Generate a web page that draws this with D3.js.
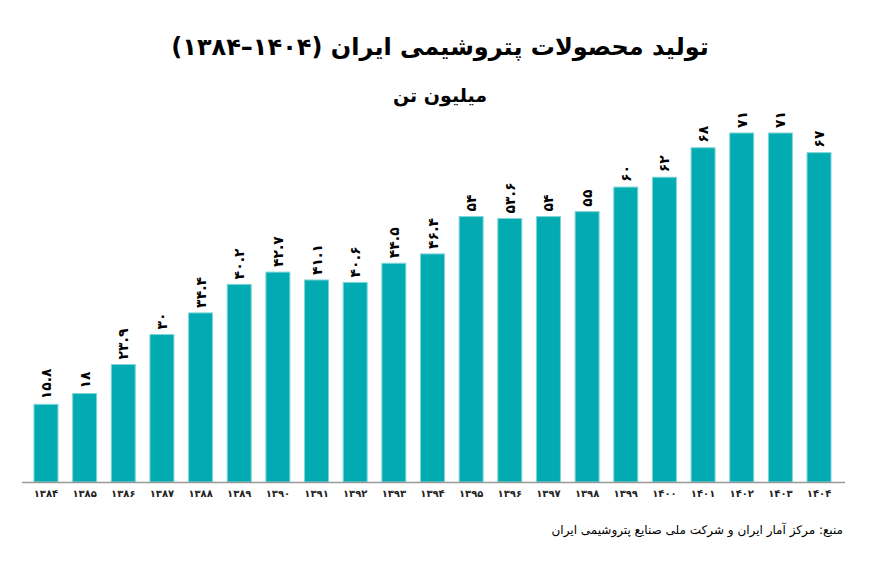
<!DOCTYPE html>
<html>
<head>
<meta charset="utf-8">
<script src="https://cdn.jsdelivr.net/npm/d3@7"></script>
<style>
  body { margin: 0; background: #fff; }
  text { font-family: "DejaVu Sans", "Noto Sans", sans-serif; }
</style>
</head>
<body>
<script>
const years = ['1384', '1385', '1386', '1387', '1388', '1389', '1390', '1391', '1392', '1393', '1394',
  '1395', '1396', '1397', '1398', '1399', '1400', '1401', '1402', '1403', '1404'];
const values = [15.8, 18, 23.9, 30, 34.4, 40.2, 42.7, 41.1, 40.6, 44.5, 46.4,
  54, 53.6, 54, 55, 60, 62, 68, 71, 71, 67];
// LRM marks keep the year range reading 1384 to 1404 from the left
const title = 'تولید محصولات پتروشیمی ایران (۱۳۸۴\u200E–\u200E۱۴۰۴)';
const subtitle = 'میلیون تن';
const source = 'منبع: مرکز آمار ایران و شرکت ملی صنایع پتروشیمی ایران';

const W = 878, H = 565;
const fa = s => String(s).replace(/[0-9]/g, d => '۰۱۲۳۴۵۶۷۸۹'[d]);

const svg = d3.select('body').append('svg')
  .attr('width', W)
  .attr('height', H);

const x = d3.scaleBand()
  .domain(years)
  .range([22, 843])
  .paddingInner(0.38)
  .paddingOuter(0.31);

const y = d3.scaleLinear()
  .domain([0, 71])
  .range([482, 133]);

svg.append('text')
  .attr('x', 440).attr('y', 55)
  .attr('text-anchor', 'middle')
  .attr('direction', 'rtl')
  .style('font-size', '24px').style('font-weight', 'bold')
  .text(title);

svg.append('text')
  .attr('x', 440).attr('y', 102)
  .attr('text-anchor', 'middle')
  .attr('direction', 'rtl')
  .style('font-size', '19px').style('font-weight', 'bold')
  .text(subtitle);

svg.selectAll('rect.bar')
  .data(values)
  .join('rect')
  .attr('class', 'bar')
  .attr('x', (d, i) => x(years[i]))
  .attr('y', d => y(d))
  .attr('width', x.bandwidth())
  .attr('height', d => y(0) - y(d))
  .attr('fill', '#02abb1')
  .attr('stroke', '#7ed6d8')
  .attr('stroke-width', 1);

// value labels, turned to read upwards
svg.selectAll('text.val')
  .data(values)
  .join('text')
  .attr('class', 'val')
  .attr('transform', (d, i) => `translate(${x(years[i]) + x.bandwidth() / 2 + 5},${y(d) - 5}) rotate(-90)`)
  .attr('text-anchor', 'start')
  .style('font-size', '14px').style('font-weight', 'bold')
  .text(d => fa(d));

const axis = svg.append('g')
  .attr('transform', `translate(0,${y(0)})`)
  .call(d3.axisBottom(x).tickSize(0).tickPadding(8).tickFormat(fa));

axis.select('.domain')
  .attr('d', 'M22,0.5H845')
  .attr('stroke', '#999')
  .attr('stroke-width', 1.5);

axis.selectAll('text')
  .style('font-size', '10px').style('font-weight', 'bold')
  .attr('fill', '#222');

svg.append('text')
  .attr('x', 843).attr('y', 534)
  .attr('text-anchor', 'start')
  .attr('direction', 'rtl')
  .style('font-size', '12px')
  .text(source);
</script>
</body>
</html>
